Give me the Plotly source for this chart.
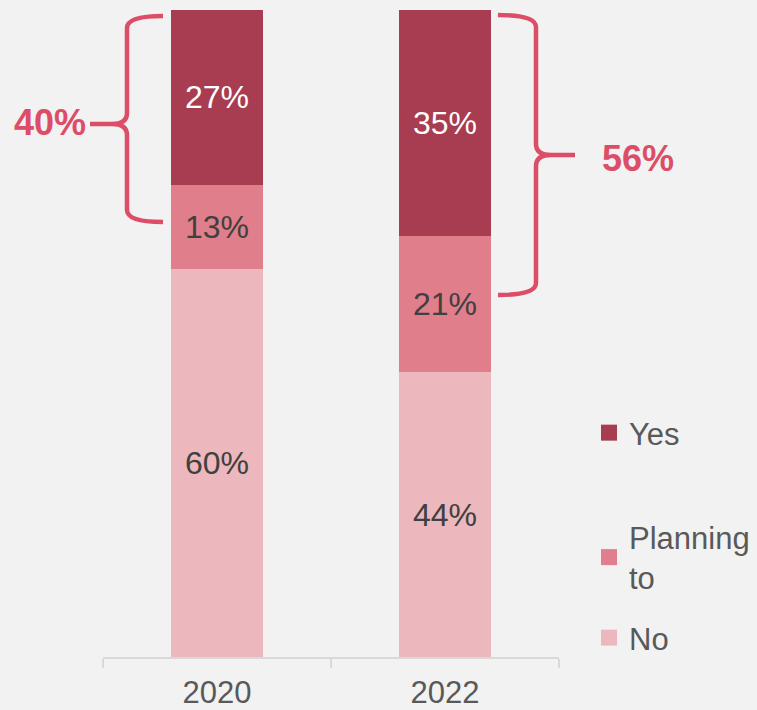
import plotly.graph_objects as go

years = ["2020", "2022"]
no_vals = [60, 44]
planning_vals = [13, 21]
yes_vals = [27, 35]
brace_labels = ["40%", "56%"]

C_YES = "#A83C50"
C_PLAN = "#E07E8B"
C_NO = "#EDB8BD"
C_BRACE = "#DC4D67"
BG = "#F2F2F2"
FONT = "Liberation Sans, Arial, sans-serif"

W, H = 757, 710
ML, MR, MT, MB = 103, 198, 10, 53
PW = W - ML - MR
PH = H - MT - MB


def px(x):
    return (x - ML) / PW


def py(y):
    return (H - MB - y) / PH


def brace_path(pts):
    out = []
    for cmd, coords in pts:
        s = " ".join(f"{px(a):.5f},{py(b):.5f}" for a, b in coords)
        out.append(f"{cmd} {s}")
    return " ".join(out)


fig = go.Figure()
series = [
    ("No", no_vals, C_NO, "#404040", "legend2", 3),
    ("Planning<br>to", planning_vals, C_PLAN, "#404040", "legend", 2),
    ("Yes", yes_vals, C_YES, "#FFFFFF", "legend", 1),
]
for name, vals, col, tcol, leg, rank in series:
    fig.add_trace(go.Bar(
        x=years, y=vals, name=name, marker=dict(color=col, line=dict(width=0)),
        width=0.4, texttemplate="%{y}%", textposition="inside",
        insidetextanchor="middle", textangle=0,
        textfont=dict(size=32, color=tcol, family=FONT),
        showlegend=False, hoverinfo="skip",
    ))
for name, vals, col, tcol, leg, rank in series:
    fig.add_trace(go.Scatter(
        x=[None], y=[None], mode="markers", name=name,
        marker=dict(symbol="square", size=16, color=col, line=dict(width=0)),
        legend=leg, legendrank=rank, legendgroup=name, hoverinfo="skip",
    ))

left = [("M", [(163, 16)]), ("Q", [(127, 16), (127, 28)]), ("L", [(127, 113)]),
        ("Q", [(127, 124), (112, 124)]), ("L", [(90, 124)]), ("L", [(112, 124)]),
        ("Q", [(127, 124), (127, 135)]), ("L", [(127, 210)]),
        ("Q", [(127, 222), (163, 222)])]
right = [("M", [(498, 15)]), ("Q", [(536, 15), (536, 27)]), ("L", [(536, 144)]),
         ("Q", [(536, 155), (551, 155)]), ("L", [(575, 155)]), ("L", [(551, 155)]),
         ("Q", [(536, 155), (536, 166)]), ("L", [(536, 283)]),
         ("Q", [(536, 295), (498, 295)])]
for p in (left, right):
    fig.add_shape(type="path", path=brace_path(p), xref="paper", yref="paper",
                  line=dict(color=C_BRACE, width=4.5), layer="above")

for lbl, (ax, ay) in zip(brace_labels, [(50, 122), (638, 158)]):
    fig.add_annotation(x=px(ax), y=py(ay), xref="paper", yref="paper",
                       xanchor="center", yanchor="middle",
                       text=f"<b>{lbl}</b>", showarrow=False,
                       font=dict(size=36, color=C_BRACE, family=FONT))

leg_common = dict(xanchor="left", yanchor="top", bgcolor="rgba(0,0,0,0)",
                  font=dict(size=31, color="#595959", family=FONT),
                  itemclick=False, itemdoubleclick=False)
fig.update_layout(
    width=W, height=H, barmode="stack",
    paper_bgcolor=BG, plot_bgcolor=BG,
    margin=dict(l=ML, r=MR, t=MT, b=MB, pad=0, autoexpand=False),
    font=dict(family=FONT, color="#595959", size=31),
    showlegend=True,
    legend=dict(x=px(589), y=py(406), traceorder="grouped", tracegroupgap=61,
                **leg_common),
    legend2=dict(x=px(589), y=py(611), **leg_common),
    xaxis=dict(type="category", range=[-0.5, 1.5], showline=True,
               linecolor="#D9D9D9", linewidth=1.5, ticks="outside",
               tickson="boundaries", ticklen=9, tickcolor="#D9D9D9",
               tickwidth=1.5, showgrid=False, zeroline=False,
               ticklabelstandoff=7, automargin=False,
               tickfont=dict(size=31, color="#595959", family=FONT)),
    yaxis=dict(range=[0, 100], visible=False, showgrid=False, automargin=False),
    bargap=0.6,
)

fig.write_html(
    "out.html",
    config={"displayModeBar": False},
    post_script="document.body.style.margin='0px';"
                "document.body.style.background='#F2F2F2';",
)
